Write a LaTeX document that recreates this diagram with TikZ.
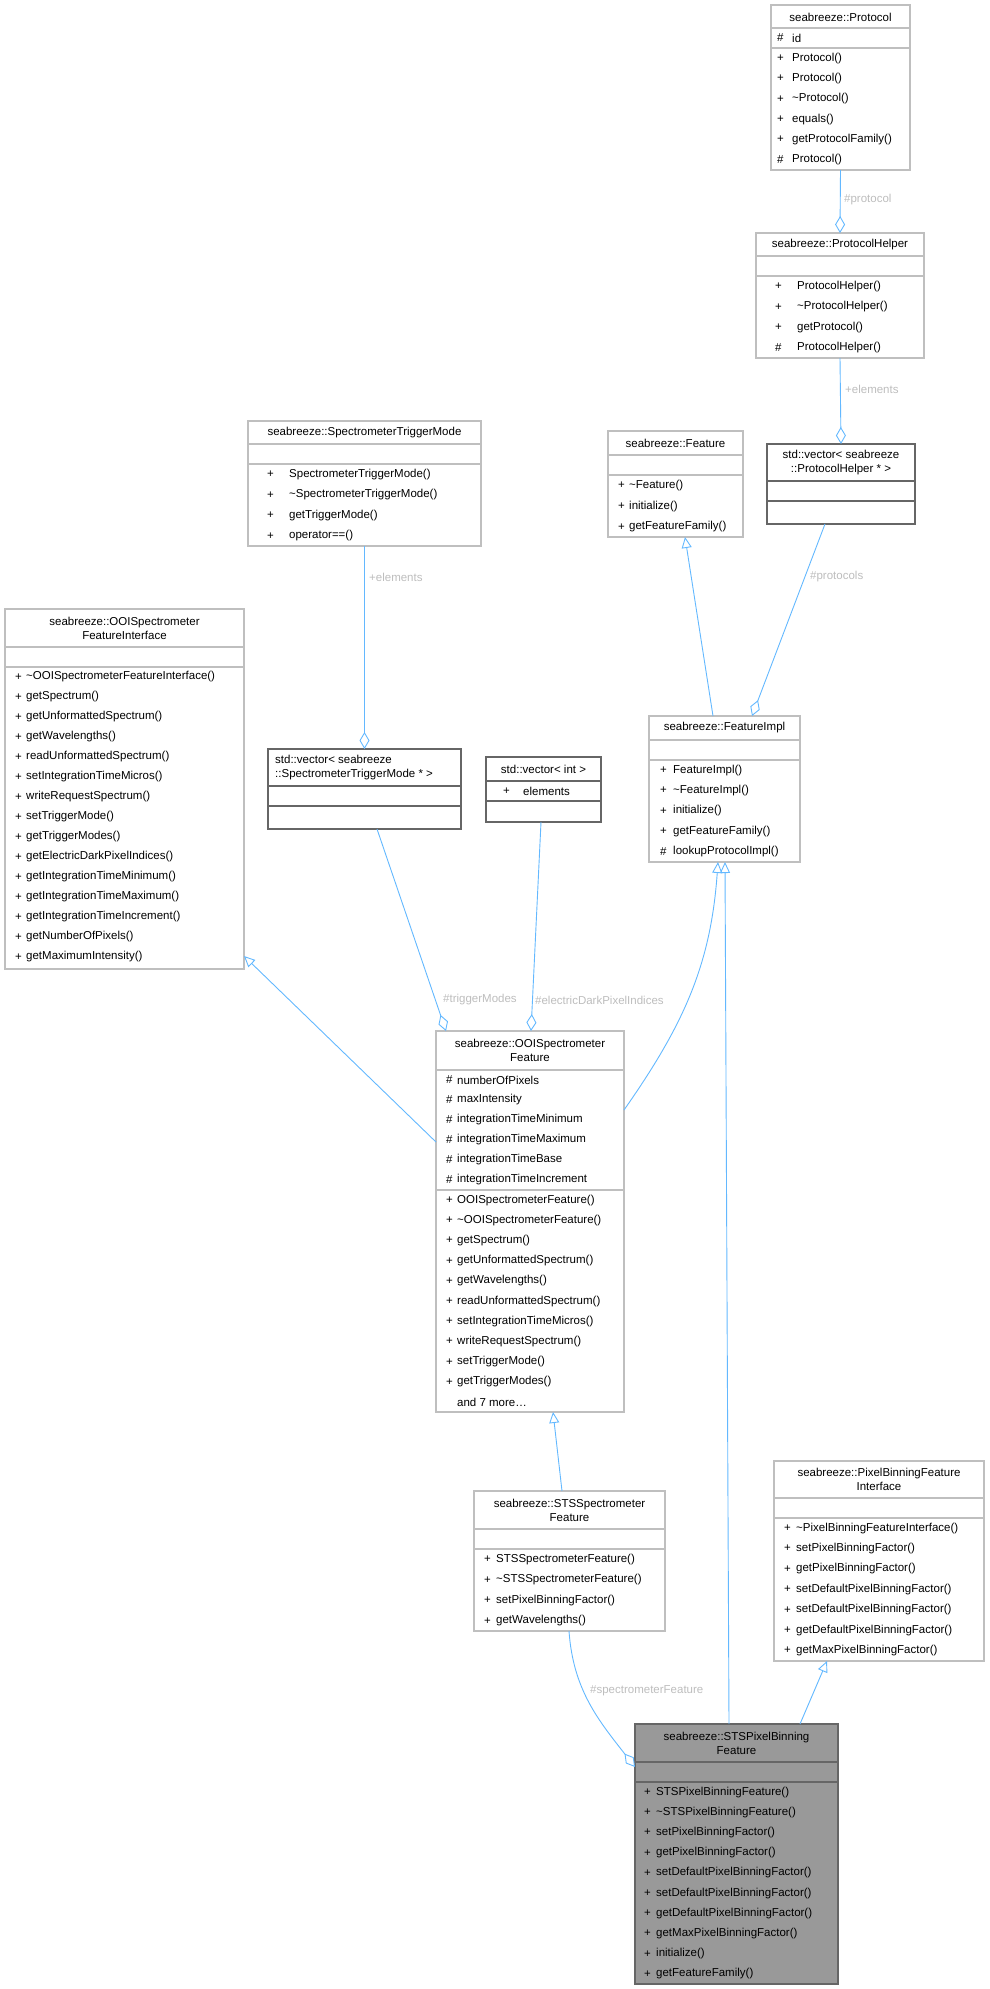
\documentclass[tikz,border=0pt]{standalone}
\usepackage{fontspec}
\setmainfont{Liberation Sans}
\usetikzlibrary{arrows.meta,calc}
\definecolor{edgec}{HTML}{63B8FF}
\definecolor{labc}{HTML}{BDBDBD}
\definecolor{lbord}{HTML}{BFBFBF}
\definecolor{dbord}{HTML}{666666}
\definecolor{hfill}{HTML}{999999}
\tikzset{
  lbox/.style={draw=lbord,line width=1.1pt,fill=white},
  dbox/.style={draw=dbord,line width=1.1pt,fill=white},
  hbox/.style={draw=dbord,line width=1.1pt,fill=hfill},
  txt/.style={inner sep=0pt,font=\fontsize{11.5}{14}\selectfont,text=black},
  lab/.style={inner sep=0pt,font=\fontsize{11.5}{14}\selectfont,text=labc,anchor=west},
  inh/.style={draw=edgec,line width=0.9pt,-{Triangle[open,length=11pt,width=10pt]}},
  agg/.style={draw=edgec,line width=0.9pt,-{Diamond[open,length=17pt,width=10pt]}},
}
\newcommand\clsbox[6]{%
  \pgfmathsetmacro\ww{#4-#2}\pgfmathsetmacro\hh{#5-#3}%
  \node[#6,anchor=north west,minimum width=\ww pt,minimum height=\hh pt,inner sep=0pt,outer sep=0pt] (#1) at (#2,#3) {};}
\newcommand\sepl[4]{\draw[draw=#4,line width=1.1pt] (#1,#3) -- (#2,#3);}
\newcommand\members[5]{%
  \foreach [count=\i] \mS/\mT in {#5} {%
    \pgfmathsetmacro\yy{#3+(\i-0.5)*#4}%
    \node[txt,anchor=west] at (#1,\yy) {\mS};
    \node[txt,anchor=west] at (#2,\yy) {\mT};}}
\begin{document}
\begin{tikzpicture}[x=1pt,y=-1pt]
\useasboundingbox (0,0) rectangle (989,1989);
% Protocol
\clsbox{proto}{771}{5}{910}{170}{lbox}
\node[txt] at (840.5,17) {seabreeze::Protocol};
\sepl{771}{910}{28}{lbord}\sepl{771}{910}{48}{lbord}
\members{777}{792}{28}{20}{\#/id}
\members{777}{792}{48}{20.3}{+/Protocol(),+/Protocol(),+/\textasciitilde Protocol(),+/equals(),+/getProtocolFamily(),\#/Protocol()}
% ProtocolHelper
\clsbox{phelp}{756}{233}{924}{358}{lbox}
\node[txt] at (840,245) {seabreeze::ProtocolHelper};
\sepl{756}{924}{256}{lbord}\sepl{756}{924}{276}{lbord}
\members{775}{797}{276}{20.5}{+/ProtocolHelper(),+/\textasciitilde ProtocolHelper(),+/getProtocol(),\#/ProtocolHelper()}
% vector ProtocolHelper
\clsbox{vecph}{767}{444}{915}{524}{dbox}
\node[txt,align=center] at (841,462.5) {std::vector< seabreeze\\::ProtocolHelper * >};
\sepl{767}{915}{481}{dbord}\sepl{767}{915}{501}{dbord}
% Feature
\clsbox{feat}{608}{431}{743}{537}{lbox}
\node[txt] at (675.5,443) {seabreeze::Feature};
\sepl{608}{743}{455}{lbord}\sepl{608}{743}{475}{lbord}
\members{618}{629}{475}{20.7}{+/\textasciitilde Feature(),+/initialize(),+/getFeatureFamily()}
% FeatureImpl
\clsbox{fimpl}{649}{716}{800}{862}{lbox}
\node[txt] at (724.5,728) {seabreeze::FeatureImpl};
\sepl{649}{800}{740}{lbord}\sepl{649}{800}{760}{lbord}
\members{660}{673}{760}{20.4}{+/FeatureImpl(),+/\textasciitilde FeatureImpl(),+/initialize(),+/getFeatureFamily(),\#/lookupProtocolImpl()}
% SpectrometerTriggerMode
\clsbox{stm}{248}{421}{481}{546}{lbox}
\node[txt] at (364.5,433) {seabreeze::SpectrometerTriggerMode};
\sepl{248}{481}{444}{lbord}\sepl{248}{481}{464}{lbord}
\members{267}{289}{464}{20.5}{+/SpectrometerTriggerMode(),+/\textasciitilde SpectrometerTriggerMode(),+/getTriggerMode(),+/operator==()}
% vector STM
\clsbox{vecstm}{268}{749}{461}{829}{dbox}
\node[txt,align=left,anchor=west] at (275,767.5) {std::vector< seabreeze\\::SpectrometerTriggerMode * >};
\sepl{268}{461}{786}{dbord}\sepl{268}{461}{806}{dbord}
% vector int
\clsbox{vecint}{486}{757}{601}{822}{dbox}
\node[txt] at (543.5,769) {std::vector< int >};
\sepl{486}{601}{781}{dbord}\sepl{486}{601}{801}{dbord}
\members{503}{523}{781}{20}{+/elements}
% OOISpectrometerFeatureInterface
\clsbox{ooifi}{5}{609}{244}{969}{lbox}
\node[txt,align=center] at (124.5,628) {seabreeze::OOISpectrometer\\FeatureInterface};
\sepl{5}{244}{647}{lbord}\sepl{5}{244}{667}{lbord}
\members{15}{26}{667}{20}{+/\textasciitilde OOISpectrometerFeatureInterface(),+/getSpectrum(),+/getUnformattedSpectrum(),+/getWavelengths(),+/readUnformattedSpectrum(),+/setIntegrationTimeMicros(),+/writeRequestSpectrum(),+/setTriggerMode(),+/getTriggerModes(),+/getElectricDarkPixelIndices(),+/getIntegrationTimeMinimum(),+/getIntegrationTimeMaximum(),+/getIntegrationTimeIncrement(),+/getNumberOfPixels(),+/getMaximumIntensity()}
% OOISpectrometerFeature
\clsbox{ooisf}{436}{1031}{624}{1412}{lbox}
\node[txt,align=center] at (530,1050.5) {seabreeze::OOISpectrometer\\Feature};
\sepl{436}{624}{1070}{lbord}\sepl{436}{624}{1190}{lbord}
\members{446}{457}{1070}{20}{\#/numberOfPixels,\#/maxIntensity,\#/integrationTimeMinimum,\#/integrationTimeMaximum,\#/integrationTimeBase,\#/integrationTimeIncrement}
\members{446}{457}{1190}{20.2}{+/OOISpectrometerFeature(),+/\textasciitilde OOISpectrometerFeature(),+/getSpectrum(),+/getUnformattedSpectrum(),+/getWavelengths(),+/readUnformattedSpectrum(),+/setIntegrationTimeMicros(),+/writeRequestSpectrum(),+/setTriggerMode(),+/getTriggerModes(),{}/{and 7 more\ldots}}
% STSSpectrometerFeature
\clsbox{sts}{474}{1491}{665}{1631}{lbox}
\node[txt,align=center] at (569.5,1510) {seabreeze::STSSpectrometer\\Feature};
\sepl{474}{665}{1529}{lbord}\sepl{474}{665}{1549}{lbord}
\members{484}{496}{1549}{20.5}{+/STSSpectrometerFeature(),+/\textasciitilde STSSpectrometerFeature(),+/setPixelBinningFactor(),+/getWavelengths()}
% PixelBinningFeatureInterface
\clsbox{pbfi}{774}{1461}{984}{1661}{lbox}
\node[txt,align=center] at (879,1479.5) {seabreeze::PixelBinningFeature\\Interface};
\sepl{774}{984}{1498}{lbord}\sepl{774}{984}{1518}{lbord}
\members{784}{796}{1518}{20.4}{+/\textasciitilde PixelBinningFeatureInterface(),+/setPixelBinningFactor(),+/getPixelBinningFactor(),+/setDefaultPixelBinningFactor(),+/setDefaultPixelBinningFactor(),+/getDefaultPixelBinningFactor(),+/getMaxPixelBinningFactor()}
% STSPixelBinningFeature
\clsbox{stspb}{635}{1724}{838}{1984}{hbox}
\node[txt,align=center] at (736.5,1743.5) {seabreeze::STSPixelBinning\\Feature};
\sepl{635}{838}{1762}{dbord}\sepl{635}{838}{1782}{dbord}
\members{644}{656}{1782}{20.2}{+/STSPixelBinningFeature(),+/\textasciitilde STSPixelBinningFeature(),+/setPixelBinningFactor(),+/getPixelBinningFactor(),+/setDefaultPixelBinningFactor(),+/setDefaultPixelBinningFactor(),+/getDefaultPixelBinningFactor(),+/getMaxPixelBinningFactor(),+/initialize(),+/getFeatureFamily()}
% edges
\draw[agg] (proto.south) -- (phelp.north);
\node[lab] at (844,200) {\#protocol};
\draw[agg] (phelp.south) -- (vecph.north);
\node[lab] at (845,389) {+elements};
\draw[inh] ($(fimpl.north west)+(64,0)$) -- ($(feat.south west)+(77,0)$);
\draw[agg] ($(vecph.south west)+(58,0)$) -- ($(fimpl.north west)+(103,0)$);
\node[lab] at (810,577) {\#protocols};
\draw[agg] (stm.south) -- (vecstm.north);
\node[lab] at (369,577) {+elements};
\draw[agg] ($(vecstm.south west)+(109,0)$) -- ($(ooisf.north west)+(10,0)$);
\node[lab] at (443,1000) {\#triggerModes};
\draw[agg] ($(vecint.south west)+(55,0)$) -- ($(ooisf.north west)+(95,0)$);
\node[lab] at (535,1000) {\#electricDarkPixelIndices};
\draw[inh] ($(ooisf.north west)+(0,111)$) -- ($(ooifi.north east)+(0,347)$);
\draw[inh] ($(ooisf.north east)+(0,79)$) to[out=55,in=-94] ($(fimpl.south west)+(69,0)$);
\draw[inh] ($(stspb.north west)+(94,0)$) -- ($(fimpl.south west)+(76,0)$);
\draw[inh] ($(sts.north west)+(88,0)$) -- ($(ooisf.south west)+(117,0)$);
\draw[inh] ($(stspb.north west)+(165,0)$) -- ($(pbfi.south west)+(53,0)$);
\draw[agg] ($(sts.south west)+(95,0)$) to[out=-86,in=128] ($(stspb.north west)+(0,43)$);
\node[lab] at (590,1691) {\#spectrometerFeature};
\end{tikzpicture}
\end{document}
